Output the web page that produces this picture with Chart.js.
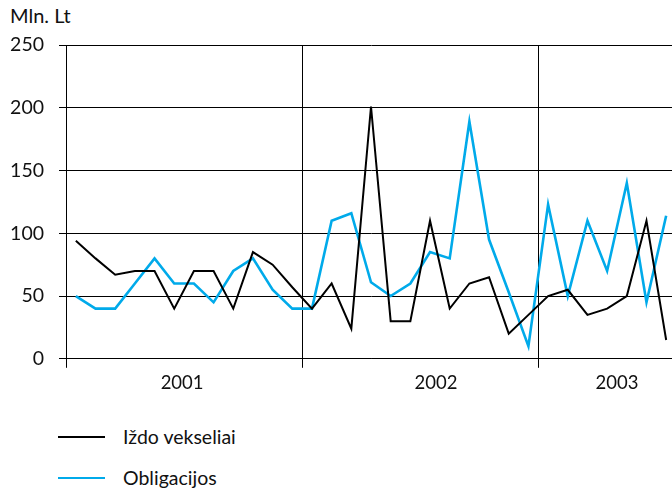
<!DOCTYPE html>
<html>
<head>
<meta charset="utf-8">
<script src="https://cdn.jsdelivr.net/npm/chart.js@4.4.1/dist/chart.umd.min.js"></script>
<style>
  html, body { margin: 0; padding: 0; background: #fff; overflow: hidden; width: 672px; height: 488px; }
  body { position: relative; font-family: Lato, sans-serif; color: #111; }
  #unit { position: absolute; left: 10px; top: 3px; font-size: 20px; }
  #wrap { position: absolute; left: 0; top: 0; width: 680px; height: 400px; }
  #legend { position: absolute; left: 58px; top: 416px; }
  .item { display: flex; align-items: center; height: 41px; font-size: 19.5px; }
  .swatch { width: 47px; margin-right: 18px; }
</style>
</head>
<body>
<div id="unit">Mln. Lt</div>
<div id="wrap"><canvas id="chart" width="680" height="400"></canvas></div>
<div id="legend"></div>
<script>
// monthly data, Jan 2001 - Jul 2003
const years = ['2001', '2002', '2003'];
const monthsPerYear = [12, 12, 7];
const seriesNames = ['Iždo vekseliai', 'Obligacijos'];
const seriesColors = ['#000000', '#00aaea'];
const treasuryBills = [94, 80, 67, 70, 70, 40, 70, 70, 40, 85, 75, 57,
                       40, 60, 24, 201, 30, 30, 110, 40, 60, 65, 20, 35,
                       50, 55, 35, 40, 50, 110, 15];
const bonds = [50, 40, 40, 60, 80, 60, 60, 45, 70, 80, 55, 40,
               40, 110, 116, 61, 50, 60, 85, 80, 189, 95, 53, 10,
               123, 50, 110, 70, 140, 45, 114];
const yTicks = [0, 50, 100, 150, 200, 250];

const totalMonths = monthsPerYear.reduce((a, b) => a + b, 0);
const yearStarts = [];
monthsPerYear.reduce((acc, n) => { yearStarts.push(acc); return acc + n; }, 0);
// where the year names sit (slightly off-centre, as in the original)
const yearLabelAt = [5.9, 18.8, 28];

const toPoints = arr => arr.map((v, i) => ({ x: i + 0.5, y: v }));
const widths = [2, 2.6];

new Chart(document.getElementById('chart'), {
    type: 'line',
    data: {
        datasets: [treasuryBills, bonds].map((arr, k) => ({
            label: seriesNames[k],
            data: toPoints(arr),
            borderColor: seriesColors[k],
            borderWidth: widths[k],
            pointRadius: 0,
            tension: 0,
            fill: false
        }))
    },
    options: {
        responsive: false,
        devicePixelRatio: 1,
        animation: false,
        layout: { padding: { left: 10, top: 45, right: 4, bottom: 2 } },
        plugins: { legend: { display: false }, tooltip: { enabled: false } },
        scales: {
            x: {
                type: 'linear',
                min: 0,
                max: totalMonths,
                afterBuildTicks: axis => {
                    axis.ticks = [...yearStarts, ...yearLabelAt].sort((a, b) => a - b).map(v => ({ value: v }));
                },
                ticks: {
                    autoSkip: false,
                    maxRotation: 0,
                    padding: 4,
                    color: '#111',
                    font: { family: 'Lato', size: 18.5 },
                    callback: value => {
                        const i = yearLabelAt.indexOf(value);
                        return i >= 0 ? years[i] : '';
                    }
                },
                grid: {
                    color: ctx => yearStarts.includes(ctx.tick && ctx.tick.value) ? '#000' : 'rgba(0,0,0,0)',
                    lineWidth: 1,
                    tickLength: 9
                },
                border: { display: true, color: '#000', width: 1 }
            },
            y: {
                min: 0,
                max: 250,
                afterBuildTicks: axis => { axis.ticks = yTicks.map(v => ({ value: v })); },
                afterFit: axis => { axis.width = 56; },
                ticks: {
                    padding: 15,
                    color: '#111',
                    font: { family: 'Lato', size: 19.5 }
                },
                grid: { color: '#000', lineWidth: 1, tickLength: 7 },
                border: { display: true, color: '#000', width: 1 }
            }
        }
    }
});

const legend = document.getElementById('legend');
seriesNames.forEach((name, k) => {
    const row = document.createElement('div');
    row.className = 'item';
    const sw = document.createElement('span');
    sw.className = 'swatch';
    sw.style.borderTop = widths[k] + 'px solid ' + seriesColors[k];
    const txt = document.createElement('span');
    txt.textContent = name;
    row.appendChild(sw);
    row.appendChild(txt);
    legend.appendChild(row);
});
</script>
</body>
</html>
